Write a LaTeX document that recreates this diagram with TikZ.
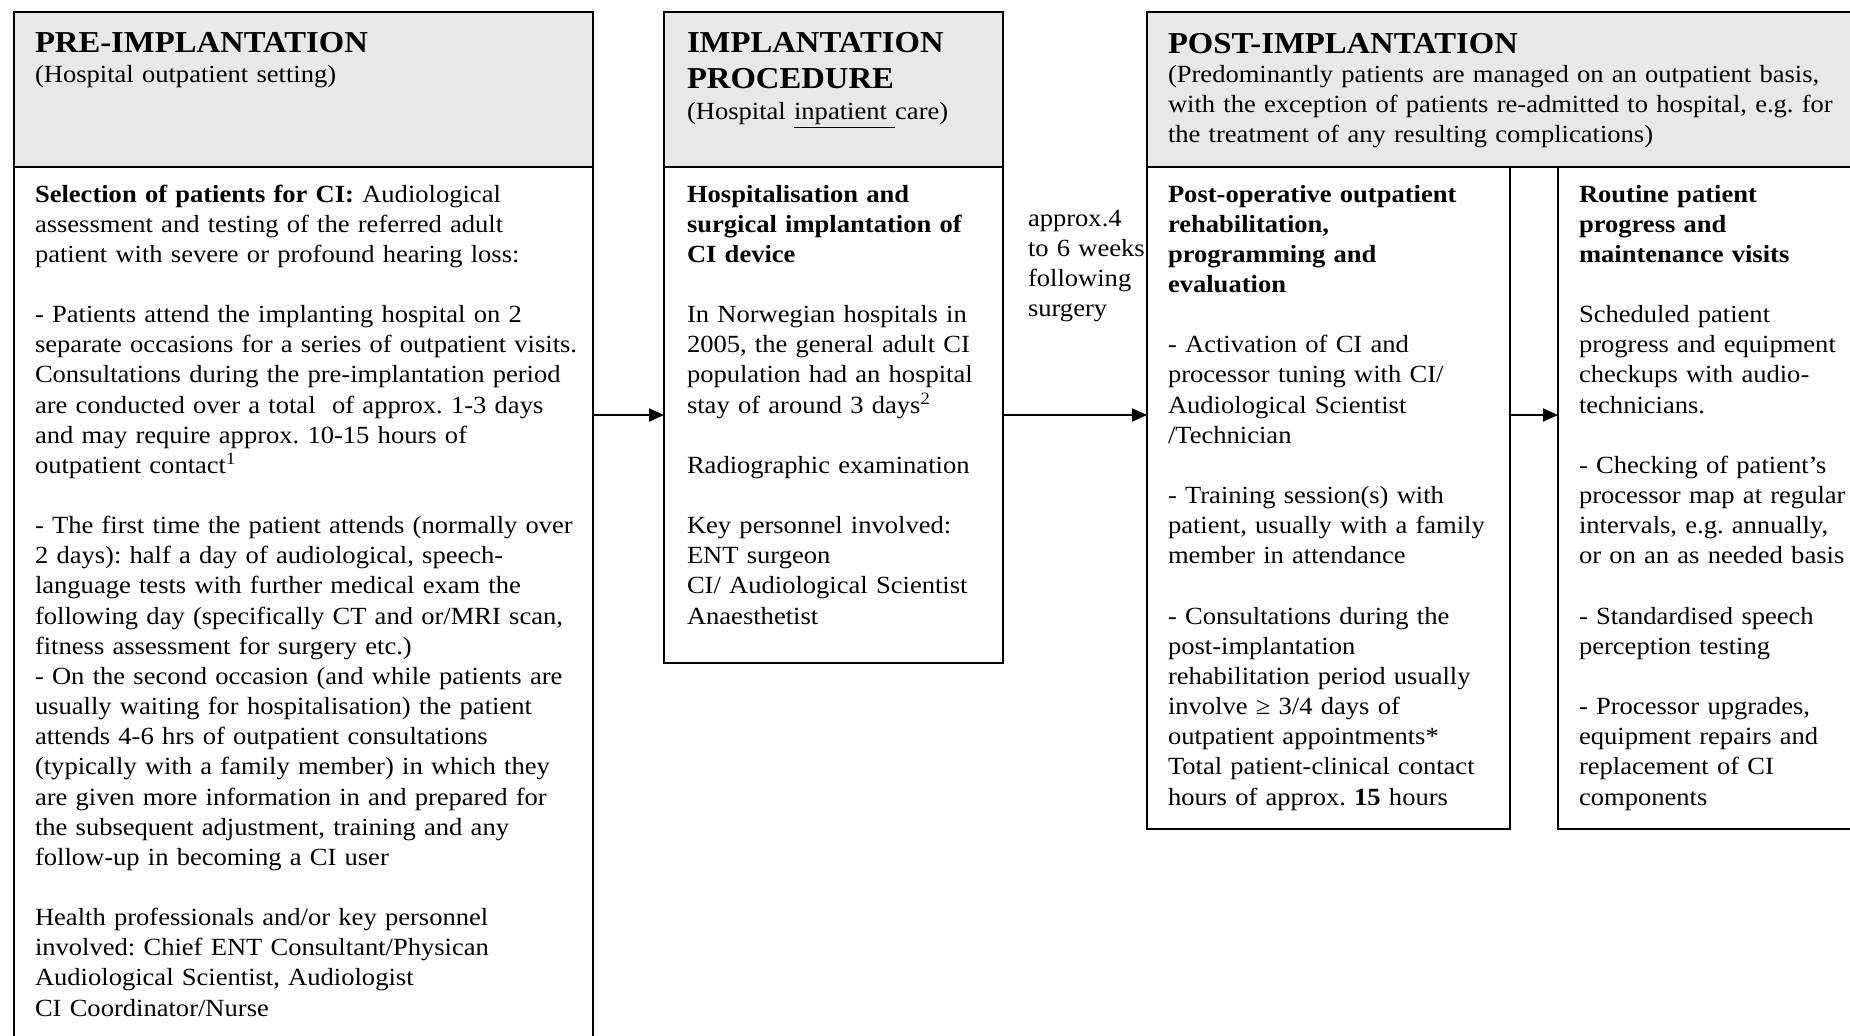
\documentclass[tikz,border=0pt]{standalone}
\usepackage{fontspec}
\setmainfont{Liberation Serif}[FakeStretch=1.075]
\usetikzlibrary{arrows.meta}
\definecolor{hdr}{RGB}{232,232,232}
\tikzset{
 box/.style={draw=black, line width=1pt, inner sep=0pt, outer sep=0pt, anchor=north west},
 hbox/.style={box, fill=hdr},
 txt/.style={anchor=base west, inner sep=0pt, outer sep=0pt, text width=300pt, align=left, font=\fontsize{12.35pt}{15.075pt}\selectfont\frenchspacing},
 head/.style={anchor=base west, inner sep=0pt, outer sep=0pt, text width=300pt, align=left, font=\fontsize{15.2pt}{18.4pt}\selectfont\bfseries},
 arr/.style={line width=1pt, -{Triangle[length=7.5pt,width=6.5pt]}},
}
\newcommand\LP{30.15}
\newcommand\BY{202}
\begin{document}
\frenchspacing
\begin{tikzpicture}[x=0.5pt,y=-0.5pt]
\useasboundingbox (0,0) rectangle (1850,1035);
\clip (0,0) rectangle (1850,1035);
% boxes
\node[hbox, minimum width=289.5pt, minimum height=77.5pt] (preH) at (14,12) {};
\node[box, minimum width=289.5pt, minimum height=466.5pt] (preB) at (14,167) {};
\node[hbox, minimum width=169.5pt, minimum height=77.5pt] (impH) at (664,12) {};
\node[box, minimum width=169.5pt, minimum height=248pt] (impB) at (664,167) {};
\node[hbox, minimum width=376.5pt, minimum height=77.5pt] (postH) at (1147,12) {};
\node[box, minimum width=181.5pt, minimum height=331pt] (postA) at (1147,167) {};
\node[box, minimum width=171pt, minimum height=331pt] (postC) at (1558,167) {};
% arrows
\draw[arr] (preB.east |- impB.west) -- (impB.west);
\draw[arr] (impB.east) -- (postA.west |- impB.east);
\draw[arr] (postA.east |- impB.east) -- (postC.west |- impB.east);
% headers
\node[head] (preT) at (35,52.5) {PRE-IMPLANTATION};
\node[txt] (preS) at (35,82) {(Hospital outpatient setting)};
\node[head] (impT) at (687,52) {IMPLANTATION\\PROCEDURE};
\node[txt] (impS) at (687,119) {(Hospital \underline{inpatient }care)};
\node[head] (postT) at (1168,53) {POST-IMPLANTATION};
\node[txt, text width=420pt] (postS) at (1168,82) {(Predominantly patients are managed on an outpatient basis,\\with the exception of patients re-admitted to hospital, e.g. for\\the treatment of any resulting complications)};
% left body
\node[txt] (p1) at (35,{\BY}) {\textbf{Selection of patients for CI:} Audiological\\assessment and testing of the referred adult\\patient with severe or profound hearing loss:};
\node[txt] (p2) at (35,{\BY+\LP*4}) {- Patients attend the implanting hospital on 2\\separate occasions for a series of outpatient visits.\\Consultations during the pre-implantation period\\are conducted over a total\ \ of approx. 1-3 days\\and may require approx. 10-15 hours of\\outpatient contact\textsuperscript{1}};
\node[txt] (p3) at (35,{\BY+\LP*11}) {- The first time the patient attends (normally over\\2 days): half a day of audiological, speech-\\language tests with further medical exam the\\following day (specifically CT and or/MRI scan,\\fitness assessment for surgery etc.)\\- On the second occasion (and while patients are\\usually waiting for hospitalisation) the patient\\attends 4-6 hrs of outpatient consultations\\(typically with a family member) in which they\\are given more information in and prepared for\\the subsequent adjustment, training and any\\follow-up in becoming a CI user};
\node[txt] (p4) at (35,{\BY+\LP*24}) {Health professionals and/or key personnel\\involved: Chief ENT Consultant/Physican\\Audiological Scientist, Audiologist\\CI Coordinator/Nurse};
% middle body
\node[txt] (m1) at (687,{\BY}) {\textbf{Hospitalisation and}\\\textbf{surgical implantation of}\\\textbf{CI device}};
\node[txt] (m2) at (687,{\BY+\LP*4}) {In Norwegian hospitals in\\2005, the general adult CI\\population had an hospital\\stay of around 3 days\textsuperscript{2}};
\node[txt] (m3) at (687,{\BY+\LP*9}) {Radiographic examination};
\node[txt] (m4) at (687,{\BY+\LP*11}) {Key personnel involved:\\ENT surgeon\\CI/ Audiological Scientist\\Anaesthetist};
% gap label
\node[txt] (gap) at (1028,226) {approx.4\\to 6 weeks\\following\\surgery};
% post body A
\node[txt] (a1) at (1168,{\BY}) {\textbf{Post-operative outpatient}\\\textbf{rehabilitation,}\\\textbf{programming and}\\\textbf{evaluation}};
\node[txt] (a2) at (1168,{\BY+\LP*5}) {- Activation of CI and\\processor tuning with CI/\\Audiological Scientist\\/Technician};
\node[txt] (a3) at (1168,{\BY+\LP*10}) {- Training session(s) with\\patient, usually with a family\\member in attendance};
\node[txt] (a4) at (1168,{\BY+\LP*14}) {- Consultations during the\\post-implantation\\rehabilitation period usually\\involve ≥ 3/4 days of\\outpatient appointments*\\Total patient-clinical contact\\hours of approx. \textbf{15} hours};
% post body C
\node[txt] (c1) at (1579,{\BY}) {\textbf{Routine patient}\\\textbf{progress and}\\\textbf{maintenance visits}};
\node[txt] (c2) at (1579,{\BY+\LP*4}) {Scheduled patient\\progress and equipment\\checkups with audio-\\technicians.};
\node[txt] (c3) at (1579,{\BY+\LP*9}) {- Checking of patient’s\\processor map at regular\\intervals, e.g. annually,\\or on an as needed basis};
\node[txt] (c4) at (1579,{\BY+\LP*14}) {- Standardised speech\\perception testing};
\node[txt] (c5) at (1579,{\BY+\LP*17}) {- Processor upgrades,\\equipment repairs and\\replacement of CI\\components};
\end{tikzpicture}
\end{document}
